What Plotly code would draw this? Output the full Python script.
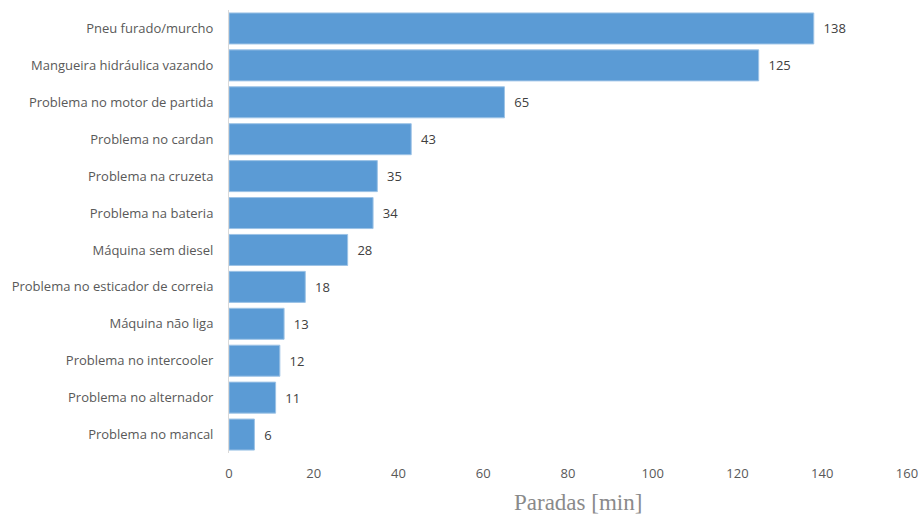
import plotly.graph_objects as go

categories = [
    "Pneu furado/murcho",
    "Mangueira hidráulica vazando",
    "Problema no motor de partida",
    "Problema no cardan",
    "Problema na cruzeta",
    "Problema na bateria",
    "Máquina sem diesel",
    "Problema no esticador de correia",
    "Máquina não liga",
    "Problema no intercooler",
    "Problema no alternador",
    "Problema no mancal",
]
values = [138, 125, 65, 43, 35, 34, 28, 18, 13, 12, 11, 6]
x_ticks = [0, 20, 40, 60, 80, 100, 120, 140, 160]
axis_title = "Paradas [min]"

fig = go.Figure(go.Bar(
    y=categories,
    x=values,
    orientation="h",
    marker=dict(color="#5B9BD5", line=dict(color="#9DC3E6", width=1)),
    text=[f"  {v}" for v in values],
    textposition="outside",
    textfont=dict(family="Open Sans, sans-serif", size=13, color="#404040"),
    cliponaxis=False,
))

fig.update_layout(
    width=922, height=514,
    margin=dict(l=229, r=15, t=10, b=61),
    plot_bgcolor="white", paper_bgcolor="white",
    bargap=0.16,
    showlegend=False,
    font=dict(family="Open Sans, sans-serif", size=13, color="#595959"),
    xaxis=dict(
        range=[0, 160], tickvals=x_ticks, showgrid=False, zeroline=False,
        showline=False, ticks="outside", ticklen=8, tickcolor="rgba(0,0,0,0)",
        tickfont=dict(size=13, color="#595959"), automargin=False,
    ),
    yaxis=dict(
        autorange="reversed", showgrid=False, zeroline=False,
        showline=True, linecolor="#D9D9D9", linewidth=1,
        ticks="outside", ticklen=12, tickcolor="rgba(0,0,0,0)",
        tickfont=dict(size=13, color="#595959"), automargin=False,
    ),
    annotations=[dict(
        text=axis_title, xref="paper", yref="paper", x=0.515, y=0,
        yshift=-49, yanchor="middle", xanchor="center", showarrow=False,
        font=dict(family="Liberation Serif, serif", size=23, color="#8A8A8A"),
    )],
)

fig.write_html("out.html")
